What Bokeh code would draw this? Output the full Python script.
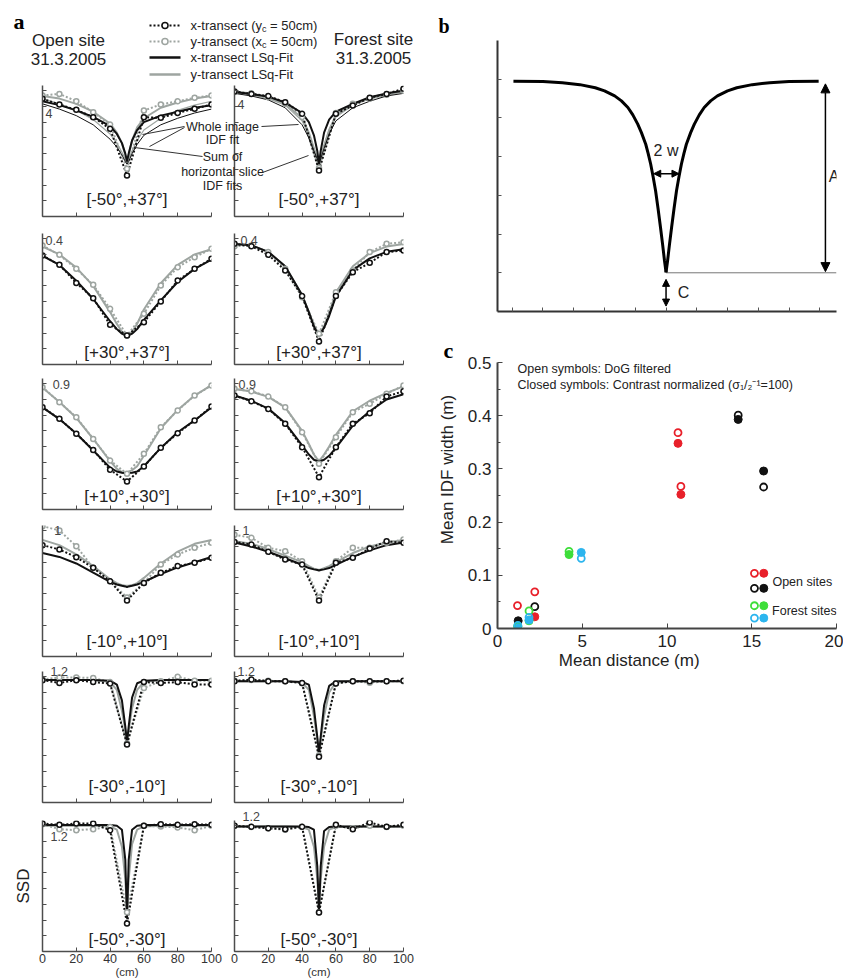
import math
from bokeh.plotting import figure
from bokeh.layouts import row, column
from bokeh.models import (Range1d, FixedTicker, Label, Arrow, NormalHead, GridBox, Title)
from bokeh.embed import file_html
from bokeh.resources import INLINE

SANS = "Liberation Sans"
SERIF = "Liberation Serif"
BLACK = "#111111"
GRAY = "#9ea5a1"
AXIS = "#4d4d4d"
TXT = "#222222"
NB = "\u00a0"

# ---------------- panel a data (SSD, as fraction of the panel's y-extent) ----------------
row_labels = ["[-50°,+37°]", "[+30°,+37°]", "[+10°,+30°]", "[-10°,+10°]", "[-30°,-10°]", "[-50°,-30°]"]
top_tick_labels = ["4", "0.4", "0.9", "1", "1.2", "1.2"]
data_x = [0, 10, 20, 30, 40, 50, 60, 70, 80, 90, 100]
fit_x = [0, 10, 20, 30, 40, 44, 47, 49, 50, 51, 53, 56, 60, 70, 80, 90, 100]

# Open site
open1_xt = [0.898, 0.855, 0.814, 0.758, 0.669, 0.313, 0.758, 0.753, 0.791, 0.822, 0.855]
open1_yt = [0.924, 0.936, 0.880, 0.796, 0.702, 0.364, 0.809, 0.855, 0.880, 0.906, 0.924]
open1_xfit = [0.88, 0.85, 0.81, 0.76, 0.69, 0.63, 0.56, 0.48, 0.42, 0.48, 0.58, 0.66, 0.72, 0.77, 0.80, 0.83, 0.85]
open1_yfit = [0.92, 0.90, 0.86, 0.80, 0.71, 0.64, 0.56, 0.47, 0.40, 0.47, 0.58, 0.68, 0.75, 0.83, 0.87, 0.90, 0.92]
open1_whole = [0.86, 0.82, 0.77, 0.70, 0.59, 0.53, 0.47, 0.42, 0.40, 0.42, 0.48, 0.55, 0.62, 0.70, 0.75, 0.79, 0.82]
open1_slices = [0.90, 0.86, 0.81, 0.74, 0.63, 0.56, 0.49, 0.44, 0.41, 0.44, 0.50, 0.58, 0.66, 0.75, 0.81, 0.85, 0.88]

open2_xt = [0.832, 0.761, 0.623, 0.506, 0.303, 0.221, 0.323, 0.481, 0.641, 0.730, 0.807]
open2_yt = [0.908, 0.837, 0.730, 0.608, 0.425, 0.221, 0.387, 0.603, 0.743, 0.819, 0.883]
open2_xfit = [0.83, 0.76, 0.64, 0.50, 0.33, 0.27, 0.235, 0.222, 0.22, 0.222, 0.235, 0.27, 0.34, 0.49, 0.63, 0.73, 0.80]
open2_yfit = [0.90, 0.84, 0.74, 0.60, 0.40, 0.31, 0.25, 0.225, 0.22, 0.225, 0.25, 0.31, 0.42, 0.62, 0.76, 0.84, 0.88]

open3_xt = [0.781, 0.692, 0.578, 0.455, 0.303, 0.214, 0.328, 0.471, 0.583, 0.679, 0.786]
open3_yt = [0.934, 0.819, 0.705, 0.539, 0.374, 0.272, 0.425, 0.628, 0.756, 0.870, 0.947]
open3_xfit = [0.78, 0.69, 0.58, 0.45, 0.32, 0.29, 0.28, 0.277, 0.277, 0.278, 0.28, 0.29, 0.33, 0.47, 0.59, 0.68, 0.78]
open3_yfit = [0.93, 0.82, 0.70, 0.54, 0.37, 0.31, 0.285, 0.28, 0.28, 0.285, 0.30, 0.33, 0.41, 0.62, 0.76, 0.87, 0.95]

open4_xt = [0.850, 0.817, 0.758, 0.677, 0.575, 0.427, 0.562, 0.639, 0.690, 0.715, 0.753]
open4_yt = [0.995, 0.962, 0.842, 0.677, 0.575, 0.450, 0.562, 0.702, 0.779, 0.830, 0.868]
open4_xfit = [0.79, 0.76, 0.71, 0.64, 0.57, 0.55, 0.54, 0.535, 0.53, 0.535, 0.54, 0.55, 0.57, 0.63, 0.68, 0.72, 0.76]
open4_yfit = [0.89, 0.85, 0.78, 0.69, 0.59, 0.56, 0.545, 0.54, 0.54, 0.54, 0.545, 0.56, 0.60, 0.71, 0.80, 0.86, 0.89]

open5_xt = [0.934, 0.913, 0.934, 0.919, 0.908, 0.443, 0.919, 0.913, 0.919, 0.901, 0.901]
open5_yt = [0.940, 0.955, 0.955, 0.950, 0.920, 0.450, 0.875, 0.925, 0.960, 0.930, 0.930]
open5_xfit = [0.935, 0.935, 0.935, 0.935, 0.93, 0.90, 0.78, 0.58, 0.46, 0.58, 0.80, 0.91, 0.93, 0.935, 0.935, 0.935, 0.935]
open5_yfit = [0.935, 0.935, 0.935, 0.935, 0.92, 0.86, 0.70, 0.55, 0.46, 0.55, 0.72, 0.86, 0.92, 0.935, 0.935, 0.935, 0.935]

open6_xt = [0.977, 0.967, 0.977, 0.977, 0.926, 0.214, 0.959, 0.972, 0.967, 0.972, 0.967]
open6_yt = [0.972, 0.934, 0.926, 0.934, 0.950, 0.300, 0.959, 0.955, 0.947, 0.926, 0.959]
open6_xfit = [0.965, 0.965, 0.965, 0.965, 0.965, 0.96, 0.93, 0.70, 0.25, 0.70, 0.93, 0.96, 0.965, 0.965, 0.965, 0.965, 0.965]
open6_yfit = [0.96, 0.96, 0.96, 0.96, 0.955, 0.93, 0.80, 0.55, 0.30, 0.55, 0.82, 0.93, 0.955, 0.96, 0.96, 0.96, 0.96]

# Forest site
forest1_xt = [0.954, 0.936, 0.919, 0.873, 0.784, 0.351, 0.784, 0.847, 0.906, 0.936, 0.975]
forest1_yt = [0.950, 0.940, 0.910, 0.860, 0.760, 0.370, 0.790, 0.860, 0.900, 0.930, 0.960]
forest1_xfit = [0.95, 0.935, 0.915, 0.87, 0.79, 0.72, 0.62, 0.50, 0.40, 0.50, 0.64, 0.74, 0.80, 0.86, 0.91, 0.94, 0.96]
forest1_yfit = [0.95, 0.94, 0.91, 0.86, 0.75, 0.64, 0.52, 0.44, 0.38, 0.44, 0.54, 0.66, 0.77, 0.86, 0.90, 0.93, 0.96]
forest1_whole = [0.94, 0.92, 0.89, 0.83, 0.70, 0.60, 0.50, 0.44, 0.40, 0.44, 0.52, 0.63, 0.73, 0.83, 0.88, 0.92, 0.94]
forest1_slices = [0.95, 0.93, 0.90, 0.85, 0.73, 0.63, 0.52, 0.45, 0.41, 0.45, 0.54, 0.66, 0.76, 0.85, 0.90, 0.93, 0.95]

forest2_xt = [0.921, 0.903, 0.837, 0.718, 0.522, 0.176, 0.522, 0.705, 0.776, 0.858, 0.870]
forest2_yt = [0.903, 0.908, 0.858, 0.730, 0.514, 0.234, 0.552, 0.718, 0.858, 0.921, 0.934]
forest2_xfit = [0.92, 0.91, 0.86, 0.75, 0.53, 0.40, 0.29, 0.24, 0.23, 0.24, 0.28, 0.37, 0.52, 0.72, 0.81, 0.86, 0.88]
forest2_yfit = [0.92, 0.91, 0.86, 0.75, 0.53, 0.40, 0.30, 0.25, 0.235, 0.25, 0.29, 0.39, 0.55, 0.75, 0.85, 0.90, 0.92]

forest3_xt = [0.870, 0.827, 0.768, 0.654, 0.476, 0.247, 0.476, 0.654, 0.735, 0.863, 0.903]
forest3_yt = [0.921, 0.903, 0.863, 0.781, 0.590, 0.350, 0.552, 0.743, 0.807, 0.883, 0.947]
forest3_xfit = [0.87, 0.83, 0.77, 0.66, 0.49, 0.42, 0.38, 0.37, 0.368, 0.37, 0.38, 0.41, 0.47, 0.64, 0.75, 0.84, 0.88]
forest3_yfit = [0.92, 0.90, 0.86, 0.78, 0.60, 0.50, 0.42, 0.385, 0.375, 0.385, 0.42, 0.48, 0.57, 0.75, 0.83, 0.89, 0.94]

forest4_xt = [0.875, 0.855, 0.799, 0.740, 0.702, 0.427, 0.715, 0.753, 0.824, 0.880, 0.868]
forest4_yt = [0.930, 0.906, 0.830, 0.804, 0.728, 0.450, 0.728, 0.830, 0.830, 0.868, 0.893]
forest4_xfit = [0.87, 0.84, 0.80, 0.75, 0.70, 0.675, 0.665, 0.66, 0.656, 0.66, 0.665, 0.675, 0.70, 0.76, 0.81, 0.85, 0.87]
forest4_yfit = [0.88, 0.86, 0.82, 0.77, 0.72, 0.69, 0.67, 0.665, 0.66, 0.665, 0.675, 0.69, 0.72, 0.79, 0.84, 0.87, 0.89]

forest5_xt = [0.926, 0.939, 0.926, 0.926, 0.913, 0.349, 0.908, 0.926, 0.926, 0.926, 0.930]
forest5_yt = [0.930, 0.935, 0.930, 0.925, 0.910, 0.360, 0.910, 0.925, 0.915, 0.925, 0.925]
forest5_xfit = [0.925, 0.925, 0.925, 0.925, 0.92, 0.90, 0.72, 0.50, 0.37, 0.50, 0.74, 0.89, 0.925, 0.925, 0.925, 0.925, 0.925]
forest5_yfit = [0.925, 0.925, 0.925, 0.925, 0.915, 0.86, 0.66, 0.48, 0.38, 0.48, 0.66, 0.84, 0.92, 0.925, 0.925, 0.925, 0.925]

forest6_xt = [0.959, 0.952, 0.941, 0.934, 0.952, 0.298, 0.967, 0.934, 0.985, 0.952, 0.967]
forest6_yt = [0.960, 0.950, 0.940, 0.930, 0.950, 0.300, 0.960, 0.940, 0.960, 0.950, 0.960]
forest6_xfit = [0.955, 0.955, 0.955, 0.955, 0.955, 0.95, 0.93, 0.65, 0.30, 0.65, 0.92, 0.95, 0.955, 0.955, 0.955, 0.955, 0.955]
forest6_yfit = [0.955, 0.955, 0.955, 0.955, 0.95, 0.93, 0.80, 0.55, 0.32, 0.55, 0.80, 0.93, 0.95, 0.955, 0.955, 0.955, 0.955]

# ---------------- panel b data (schematic IDF curve) ----------------
idf_left_x = [0.04, 1.00, 1.63, 2.20, 2.70, 3.00, 3.33, 3.55, 3.76, 3.92, 4.08, 4.20, 4.34,
              4.42, 4.50, 4.58, 4.66, 4.74, 4.82, 4.89, 4.95, 5.00]
idf_left_y = [5.95, 5.94, 5.91, 5.86, 5.78, 5.70, 5.57, 5.44, 5.27, 5.08, 4.84, 4.62, 4.32,
              4.08, 3.81, 3.48, 3.12, 2.66, 2.17, 1.72, 1.31, 1.01]
idf_right_x = [5.00, 5.05, 5.11, 5.18, 5.26, 5.34, 5.42, 5.50, 5.58, 5.66, 5.80, 5.92, 6.08,
               6.24, 6.45, 6.67, 7.00, 7.30, 7.80, 8.37, 9.00, 9.96]
idf_right_y = [1.01, 1.31, 1.72, 2.17, 2.66, 3.12, 3.48, 3.81, 4.08, 4.32, 4.62, 4.84, 5.08,
               5.27, 5.44, 5.57, 5.70, 5.78, 5.86, 5.91, 5.94, 5.95]

# ---------------- panel c data ----------------
red_open_x = [1.18, 2.20, 10.65, 10.82]
red_open_y = [0.043, 0.069, 0.368, 0.267]
red_filled_x = [2.20, 10.65, 10.82]
red_filled_y = [0.022, 0.348, 0.252]
black_open_x = [2.20, 14.20, 15.70]
black_open_y = [0.041, 0.401, 0.266]
black_filled_x = [1.22, 14.20, 15.70]
black_filled_y = [0.0145, 0.393, 0.296]
green_open_x = [1.20, 1.86, 4.22]
green_open_y = [0.005, 0.033, 0.145]
green_filled_x = [1.20, 1.86, 4.22]
green_filled_y = [0.003, 0.0145, 0.139]
cyan_open_x = [1.20, 1.86, 4.94]
cyan_open_y = [0.006, 0.021, 0.132]
cyan_filled_x = [1.20, 1.86, 4.94]
cyan_filled_y = [0.004, 0.016, 0.143]

RED = "#e8202a"
GREEN = "#3ede3a"
CYAN = "#2cb5ee"


def clean(p):
    p.background_fill_color = None
    p.border_fill_color = None
    p.outline_line_color = None


def hide_labels(ax):
    ax.major_label_text_font_size = "0px"
    ax.major_label_text_color = None
    ax.major_label_standoff = 0


open_sets = [
    (open1_xt, open1_yt, open1_xfit, open1_yfit),
    (open2_xt, open2_yt, open2_xfit, open2_yfit),
    (open3_xt, open3_yt, open3_xfit, open3_yfit),
    (open4_xt, open4_yt, open4_xfit, open4_yfit),
    (open5_xt, open5_yt, open5_xfit, open5_yfit),
    (open6_xt, open6_yt, open6_xfit, open6_yfit),
]
forest_sets = [
    (forest1_xt, forest1_yt, forest1_xfit, forest1_yfit),
    (forest2_xt, forest2_yt, forest2_xfit, forest2_yfit),
    (forest3_xt, forest3_yt, forest3_xfit, forest3_yfit),
    (forest4_xt, forest4_yt, forest4_xfit, forest4_yfit),
    (forest5_xt, forest5_yt, forest5_xfit, forest5_yfit),
    (forest6_xt, forest6_yt, forest6_xfit, forest6_yfit),
]
extras = {0: (open1_whole, open1_slices), 1: (forest1_whole, forest1_slices)}

FW = 169
# (border top, frame height, border bottom) of each row of panel a
row_geom = [(2, 131, 9), (8, 131, 6), (8, 131, 7), (9, 131, 7), (8, 131, 3), (15, 131, 29)]
# top value label: ("label", x, y) inside the frame, or ("title", offset, standoff) above it
toplabel_pos = [
    [("label", 1.8, 0.786), ("label", 1.8, 0.95), ("label", 6.0, 0.955), ("label", 7.0, 0.96),
     ("title", 8, -8), ("label", 4.7, 0.88)],
    [("label", 1.8, 0.855), ("label", 3.5, 0.95), ("label", 2.4, 0.955), ("label", 4.7, 0.96),
     ("title", 3, -8), ("title", 8, 0)],
]
rowlabel_y = [0.13, 0.09, 0.10, 0.115, 0.12, 0.09]
y_ticks_a = [0, 0.12, 0.24, 0.36, 0.48, 0.6, 0.72, 0.84, 0.96]

subfigs = [[None] * 6, [None] * 6]
for col in range(2):
    sets = open_sets if col == 0 else forest_sets
    for r in range(6):
        xt, yt, xf, yf = sets[r]
        bl = 42 if col == 0 else 12
        br = 11 if col == 0 else 12
        bt, fh, bb = row_geom[r]
        p = figure(width=bl + FW + br, height=bt + fh + bb, title=None,
                   x_range=Range1d(0, 100), y_range=Range1d(0, 1),
                   output_backend="svg", toolbar_location=None,
                   min_border_left=bl, min_border_right=br,
                   min_border_top=bt, min_border_bottom=bb)
        clean(p)
        p.xgrid.visible = False
        p.ygrid.visible = False
        p.xaxis.ticker = FixedTicker(ticks=[0, 20, 40, 60, 80, 100])
        p.yaxis.ticker = FixedTicker(ticks=y_ticks_a)
        for ax in (p.xaxis[0], p.yaxis[0]):
            ax.axis_line_color = AXIS
            ax.axis_line_width = 1.5
            ax.major_tick_in = 4
            ax.major_tick_out = 0
            ax.major_tick_line_color = AXIS
            ax.minor_tick_line_color = None
        hide_labels(p.yaxis[0])
        if r == 5:
            p.xaxis.major_label_text_font = SANS
            p.xaxis.major_label_text_font_size = "12.5px"
            p.xaxis.major_label_text_color = "#333333"
            p.xaxis.major_label_standoff = 2
            p.xaxis.axis_label = "(cm)"
            p.xaxis.axis_label_text_font = SANS
            p.xaxis.axis_label_text_font_size = "11.5px"
            p.xaxis.axis_label_text_font_style = "normal"
            p.xaxis.axis_label_text_color = "#333333"
            p.xaxis.axis_label_standoff = 0
            if col == 0:
                p.yaxis.axis_label = "SSD"
                p.yaxis.axis_label_text_font = SANS
                p.yaxis.axis_label_text_font_size = "17px"
                p.yaxis.axis_label_text_font_style = "normal"
                p.yaxis.axis_label_text_color = TXT
                p.yaxis.axis_label_standoff = 10
        else:
            hide_labels(p.xaxis[0])

        p.line(data_x, yt, line_color=GRAY, line_width=2, line_dash="2 2")
        p.line(fit_x, yf, line_color=GRAY, line_width=2)
        if r == 0:
            whole, slices = extras[col]
            p.line(fit_x, slices, line_color=GRAY, line_width=1.2)
            p.line(fit_x, whole, line_color=BLACK, line_width=1)
        p.line(data_x, xt, line_color=BLACK, line_width=2, line_dash="2 2")
        p.line(fit_x, xf, line_color=BLACK, line_width=2)
        p.scatter(data_x, yt, marker="circle", size=5, fill_color="white",
                  line_color=GRAY, line_width=1.5)
        p.scatter(data_x, xt, marker="circle", size=5, fill_color="white",
                  line_color=BLACK, line_width=1.5)

        kind, a1, a2 = toplabel_pos[col][r]
        if kind == "label":
            p.add_layout(Label(x=a1, y=a2, text=top_tick_labels[r], text_font=SANS,
                               text_font_size="12.5px", text_color="#444444",
                               text_align="left", text_baseline="middle"))
        else:
            p.add_layout(Title(text=top_tick_labels[r], align="left", offset=a1, standoff=a2,
                               text_font=SANS, text_font_size="12.5px",
                               text_font_style="normal", text_color="#444444"), "above")
        p.add_layout(Label(x=50, y=rowlabel_y[r], text=row_labels[r], text_font=SANS,
                           text_font_size="17px", text_color=TXT,
                           text_align="center", text_baseline="middle"))
        subfigs[col][r] = p

# ---------------- header of panel a (page-pixel coordinates) ----------------
ph = figure(width=415, height=83, title=None, x_range=Range1d(0, 415), y_range=Range1d(83, 0),
            x_axis_type=None, y_axis_type=None, output_backend="svg", toolbar_location=None,
            min_border_left=0, min_border_right=0, min_border_top=0, min_border_bottom=0)
clean(ph)
for txt, x, y, size, style, font, align in [
    ("a", 13, 21, "22px", "bold", SERIF, "left"),
    ("Open site", 68, 40, "17px", "normal", SANS, "center"),
    ("31.3.2005", 68, 58, "17px", "normal", SANS, "center"),
    ("Forest site", 373, 39, "17px", "normal", SANS, "center"),
    ("31.3.2005", 373, 57, "17px", "normal", SANS, "center"),
]:
    ph.add_layout(Label(x=x, y=y, text=txt, text_font=font, text_font_style=style,
                        text_font_size=size, text_color="black" if txt == "a" else TXT,
                        text_align=align, text_baseline="middle"))
# legend keys (layout constants)
key_y = [25, 41, 57, 74]
key_x0, key_x1, key_xm, key_tx = 149, 180, 164.5, 190
ph.segment(x0=[key_x0] * 2, y0=key_y[:2], x1=[key_x1] * 2, y1=key_y[:2],
           line_color=[BLACK, GRAY], line_width=2, line_dash="2 2")
ph.segment(x0=[key_x0] * 2, y0=key_y[2:], x1=[key_x1] * 2, y1=key_y[2:],
           line_color=[BLACK, GRAY], line_width=2.5)
ph.scatter([key_xm] * 2, key_y[:2], marker="circle", size=6, fill_color="white",
           line_color=[BLACK, GRAY], line_width=1.5)
for i, (pre, sub) in enumerate([("x-transect (y", "c"), ("y-transect (x", "c")]):
    ph.add_layout(Label(x=key_tx, y=key_y[i], text=pre, text_font=SANS, text_font_size="13px",
                        text_color=TXT, text_align="left", text_baseline="middle"))
    ph.add_layout(Label(x=key_tx + 71.5, y=key_y[i] + 3, text=sub, text_font=SANS,
                        text_font_size="9px", text_color=TXT, text_align="left",
                        text_baseline="middle"))
    ph.add_layout(Label(x=key_tx + 76, y=key_y[i], text=NB + "= 50cm)", text_font=SANS,
                        text_font_size="13px", text_color=TXT, text_align="left",
                        text_baseline="middle"))
for i, txt in [(2, "x-transect LSq-Fit"), (3, "y-transect LSq-Fit")]:
    ph.add_layout(Label(x=key_tx, y=key_y[i], text=txt, text_font=SANS, text_font_size="13px",
                        text_color=TXT, text_align="left", text_baseline="middle"))

# ---------------- annotation overlay on row 1 (page-pixel coordinates) ----------------
po = figure(width=415, height=142, title=None, x_range=Range1d(0, 415), y_range=Range1d(225, 83),
            x_axis_type=None, y_axis_type=None, output_backend="svg", toolbar_location=None,
            min_border_left=0, min_border_right=0, min_border_top=0, min_border_bottom=0)
clean(po)
for txt, y in [("Whole image", 126), ("IDF fit", 139), ("Sum of", 156),
               ("horizontal slice", 171), ("IDF fits", 185)]:
    po.add_layout(Label(x=222, y=y, text=txt, text_font=SANS, text_font_size="12.5px",
                        text_color=TXT, text_align="center", text_baseline="middle"))
po.segment(x0=[184, 184, 261, 202, 262], y0=[126, 127, 126, 156, 172],
           x1=[142, 149, 298, 134, 308], y1=[134, 146, 124, 147, 155],
           line_color="#333333", line_width=1)

row1 = row(subfigs[0][0], subfigs[1][0])
row1_box = GridBox(children=[(row1, 0, 0), (po, 0, 0)])

left_block = column(ph, row1_box,
                    *[row(subfigs[0][r], subfigs[1][r]) for r in range(1, 6)])

# ---------------- panel b ----------------
bl, br, bt, bb = 82, 0, 40, 8
pb = figure(width=bl + 346 + br, height=bt + 271 + bb, title=None,
            x_range=Range1d(-0.478, 10.54), y_range=Range1d(0, 7),
            output_backend="svg", toolbar_location=None,
            min_border_left=bl, min_border_right=br, min_border_top=bt, min_border_bottom=bb)
clean(pb)
pb.add_layout(Title(text="b", align="left", offset=-59, standoff=7, text_font=SERIF,
                    text_font_size="20px", text_font_style="bold", text_color="black"), "above")
pb.xgrid.visible = False
pb.ygrid.visible = False
pb.xaxis.ticker = FixedTicker(ticks=list(range(0, 11)))
pb.yaxis.ticker = FixedTicker(ticks=[1, 2, 3, 4, 5, 6])
for ax in (pb.xaxis[0], pb.yaxis[0]):
    ax.axis_line_color = "#333333"
    ax.axis_line_width = 2
    ax.major_tick_in = 4
    ax.major_tick_out = 0
    ax.major_tick_line_color = "#555555"
    ax.minor_tick_line_color = None
    hide_labels(ax)
pb.segment(x0=[5.0], y0=[1.0], x1=[10.54], y1=[1.0], line_color="#777777", line_width=1)
pb.line(idf_left_x, idf_left_y, line_color="black", line_width=3)
pb.line(idf_right_x, idf_right_y, line_color="black", line_width=3)
for (xs, ys, xe, ye, hs) in [(10.18, 1.03, 10.18, 5.88, 9), (4.60, 3.56, 5.42, 3.56, 7),
                             (5.0, 0.83, 5.0, 0.14, 7)]:
    pb.add_layout(Arrow(start=NormalHead(size=hs, fill_color="black", line_color="black"),
                        end=NormalHead(size=hs, fill_color="black", line_color="black"),
                        x_start=xs, y_start=ys, x_end=xe, y_end=ye,
                        line_color="black", line_width=1.5))
pb.add_layout(Label(x=5.0, y=4.15, text="2 w", text_font=SANS, text_font_size="16px",
                    text_color=TXT, text_align="center", text_baseline="middle"))
pb.add_layout(Label(x=5.38, y=0.49, text="C", text_font=SANS, text_font_size="16px",
                    text_color=TXT, text_align="left", text_baseline="middle"))
pb.add_layout(Label(x=10.29, y=3.5, text="A", text_font=SANS, text_font_size="16px",
                    text_color=TXT, text_align="left", text_baseline="middle"))

# ---------------- panel c ----------------
bl, br, bt, bb = 82, 7, 43, 50
pc = figure(width=bl + 339 + br, height=bt + 266 + bb, title=None,
            x_range=Range1d(0, 20), y_range=Range1d(0, 0.5),
            output_backend="svg", toolbar_location=None,
            min_border_left=bl, min_border_right=br, min_border_top=bt, min_border_bottom=bb)
clean(pc)
pc.add_layout(Title(text="c", align="left", offset=-54, standoff=0, text_font=SERIF,
                    text_font_size="22px", text_font_style="bold", text_color="black"), "above")
pc.xgrid.visible = False
pc.ygrid.visible = False
pc.xaxis.ticker = FixedTicker(ticks=[0, 5, 10, 15, 20])
pc.yaxis.ticker = FixedTicker(ticks=[0, 0.1, 0.2, 0.3, 0.4, 0.5],
                              minor_ticks=[0.05, 0.15, 0.25, 0.35, 0.45])
pc.yaxis.major_label_overrides = {0: "0"}
for ax in (pc.xaxis[0], pc.yaxis[0]):
    ax.axis_line_color = "#444444"
    ax.axis_line_width = 2
    ax.major_tick_in = 5
    ax.major_tick_out = 0
    ax.major_tick_line_color = "#444444"
    ax.minor_tick_in = 3
    ax.minor_tick_out = 0
    ax.minor_tick_line_color = "#444444"
    ax.major_label_text_font = SANS
    ax.major_label_text_font_size = "17px"
    ax.major_label_text_color = TXT
    ax.major_label_standoff = 6
    ax.axis_label_text_font = SANS
    ax.axis_label_text_font_size = "17px"
    ax.axis_label_text_font_style = "normal"
    ax.axis_label_text_color = TXT
pc.xaxis.minor_tick_line_color = None
pc.xaxis.axis_label = "Mean distance (m)" + NB * 16
pc.xaxis.axis_label_standoff = 1
pc.yaxis.axis_label = NB * 11 + "Mean IDF width (m)"
pc.yaxis.axis_label_standoff = 8

groups = [
    (RED, red_open_x, red_open_y, red_filled_x, red_filled_y),
    (BLACK, black_open_x, black_open_y, black_filled_x, black_filled_y),
    (GREEN, green_open_x, green_open_y, green_filled_x, green_filled_y),
    (CYAN, cyan_open_x, cyan_open_y, cyan_filled_x, cyan_filled_y),
]
for color, ox, oy, fx, fy in groups:
    pc.scatter(fx, fy, marker="circle", size=8, fill_color=color, line_color=color)
for color, ox, oy, fx, fy in groups:
    pc.scatter(ox, oy, marker="circle", size=7, fill_color=None, line_color=color, line_width=1.8)

# legend keys of panel c (layout constants)
key_open_x, key_filled_x = 15.16, 15.71
key_rows_y = [0.1038, 0.0755, 0.0428, 0.0196]
key_colors = [RED, BLACK, GREEN, CYAN]
pc.scatter([key_filled_x] * 4, key_rows_y, marker="circle", size=8,
           fill_color=key_colors, line_color=key_colors)
pc.scatter([key_open_x] * 4, key_rows_y, marker="circle", size=7, fill_color=None,
           line_color=key_colors, line_width=1.8)
pc.add_layout(Label(x=16.22, y=0.0868, text="Open sites", text_font=SANS, text_font_size="12.5px",
                    text_color=TXT, text_align="left", text_baseline="middle"))
pc.add_layout(Label(x=16.2, y=0.0334, text="Forest sites", text_font=SANS, text_font_size="12.5px",
                    text_color=TXT, text_align="left", text_baseline="middle"))
pc.add_layout(Label(x=1.18, y=0.488, text="Open symbols: DoG filtered", text_font=SANS,
                    text_font_size="12.5px", text_color=TXT, text_align="left",
                    text_baseline="middle"))
pc.add_layout(Label(x=1.18, y=0.458, text="Closed symbols: Contrast normalized (σ₁/₂⁻¹=100)",
                    text_font=SANS, text_font_size="12.5px", text_color=TXT,
                    text_align="left", text_baseline="middle"))

right_block = column(pb, pc)
layout = row(left_block, right_block)

open("out.html", "w").write(file_html(layout, INLINE))
